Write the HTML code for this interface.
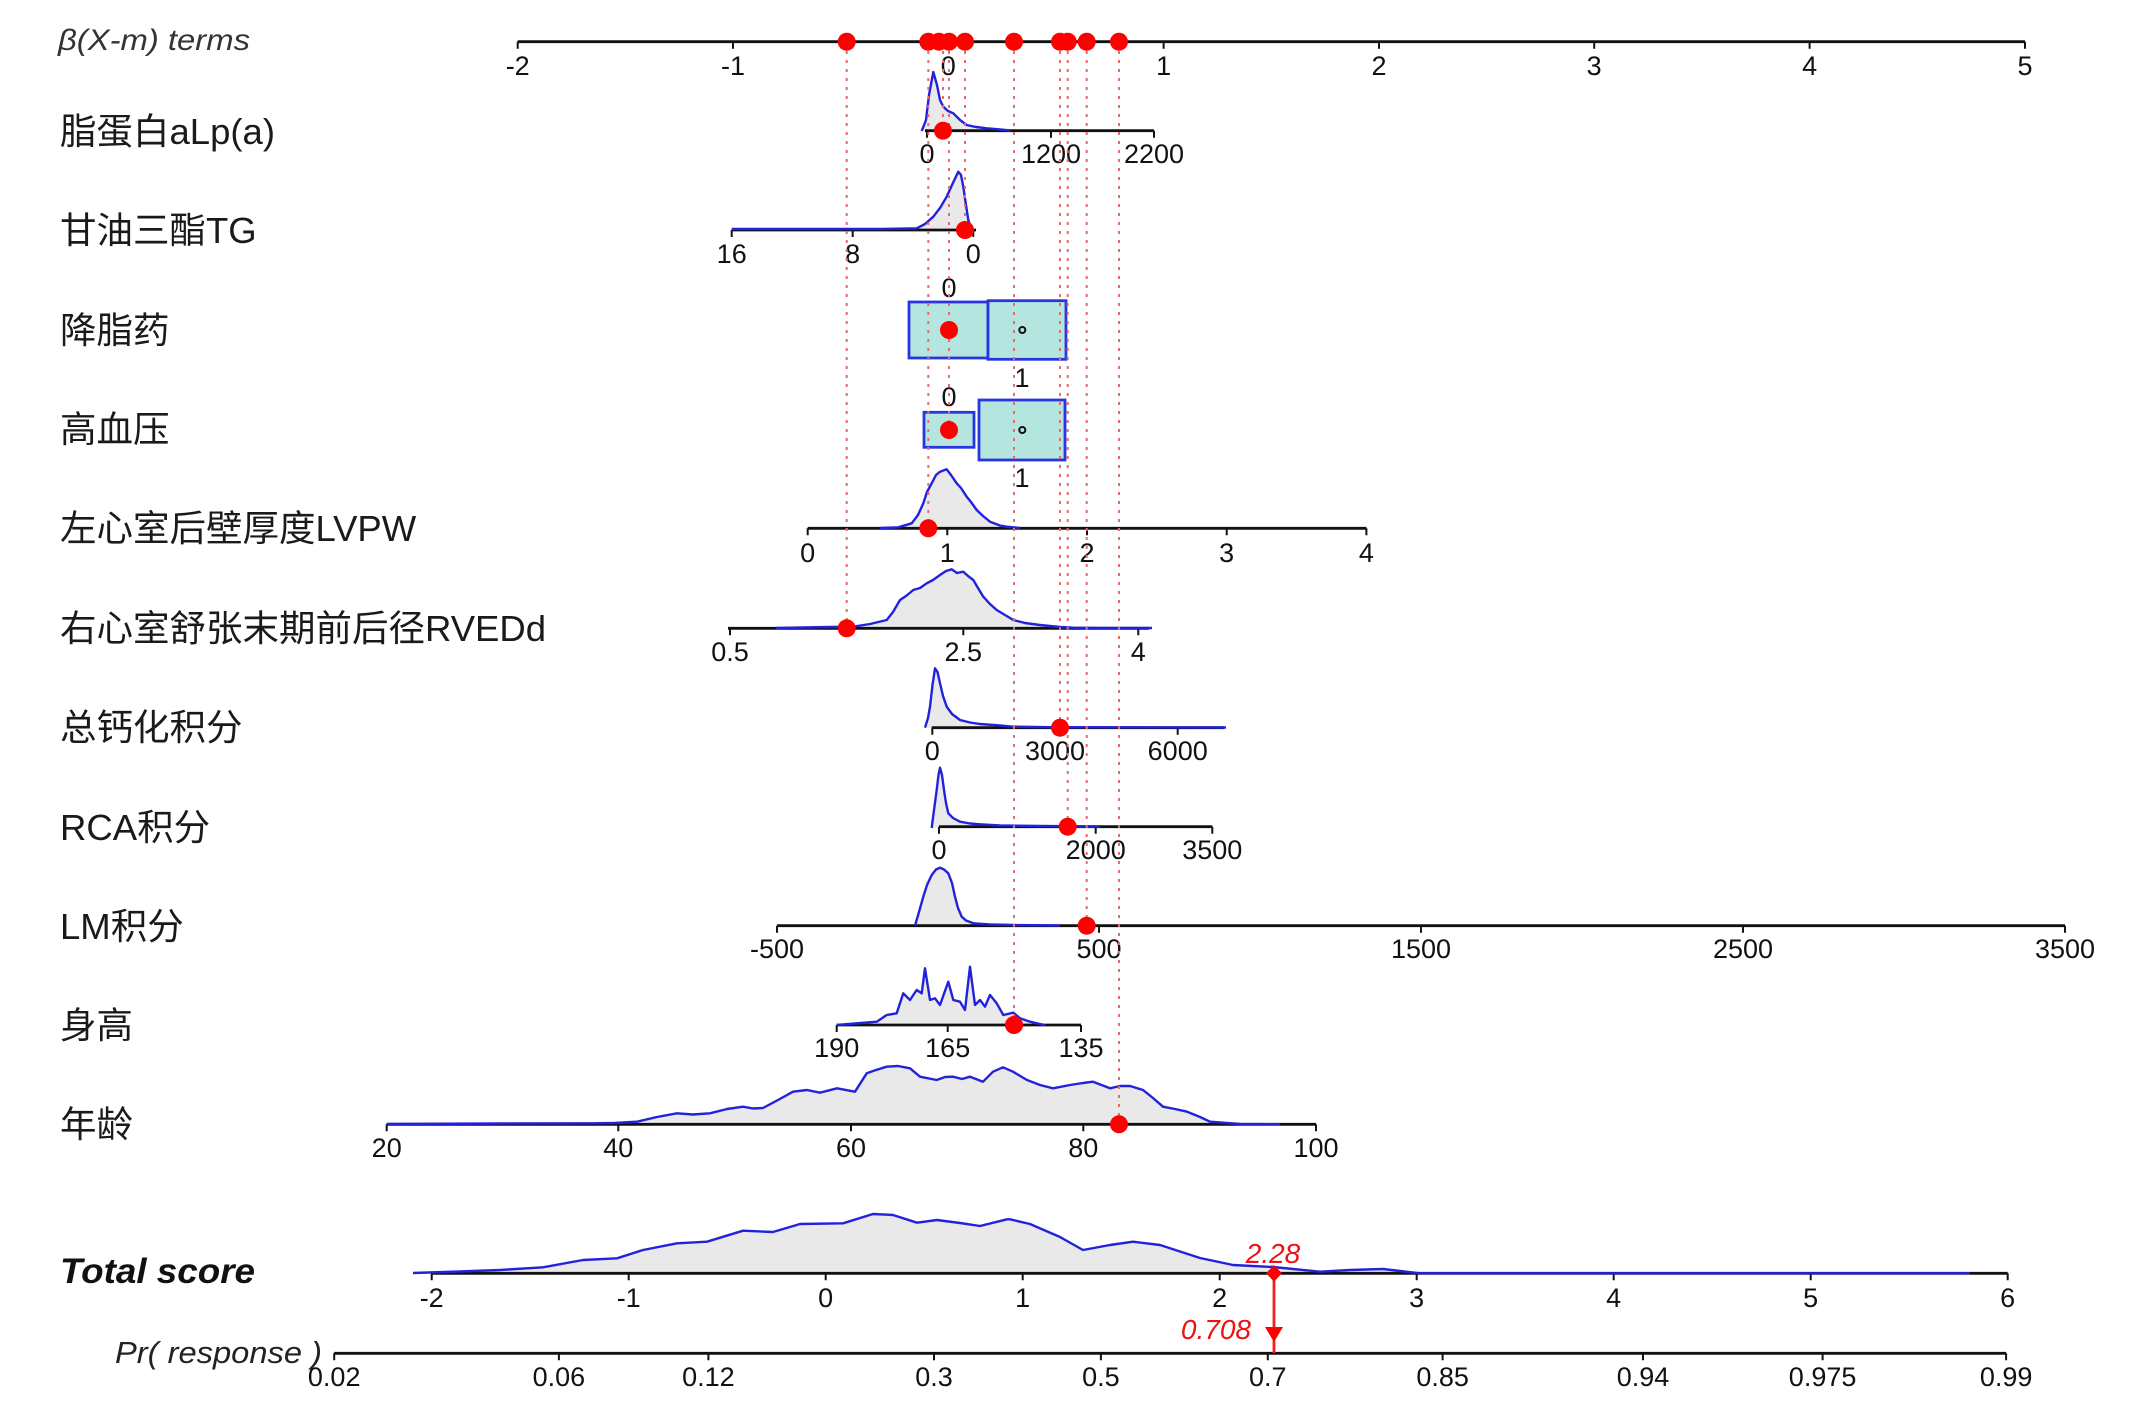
<!DOCTYPE html>
<html><head><meta charset="utf-8"><style>
html,body{margin:0;padding:0;background:#fff;}
svg{display:block;}
.t{font-family:"Liberation Sans",sans-serif;font-size:27px;fill:#111;text-anchor:middle;}
.lab{font-family:"Liberation Sans","Noto Sans CJK SC",sans-serif;font-size:36.5px;fill:#1a1a1a;}
.ax{stroke:#111;stroke-width:2.8;fill:none;}
.tk{stroke:#111;stroke-width:2;}
.df{fill:#e9e9e9;stroke:none;}
.dl{fill:none;stroke:#2222dd;stroke-width:2.4;stroke-linejoin:round;}
.vl{stroke:#e86a6a;stroke-width:2;stroke-dasharray:3 6;}
.box{fill:#b4e6df;stroke:#2a35e0;stroke-width:2.8;}
</style></head><body>
<svg width="2153" height="1416" viewBox="0 0 2153 1416" xmlns="http://www.w3.org/2000/svg">
<rect width="2153" height="1416" fill="#fff"/>

<!-- Left labels -->
<text x="58" y="50" style="font-family:'Liberation Sans',sans-serif;font-style:italic;font-size:30px;fill:#333" textLength="192" lengthAdjust="spacingAndGlyphs">β(X-m) terms</text>
<text class="lab" x="60" y="144">脂蛋白aLp(a)</text>
<text class="lab" x="60" y="243">甘油三酯TG</text>
<text class="lab" x="60" y="343">降脂药</text>
<text class="lab" x="60" y="442">高血压</text>
<text class="lab" x="60" y="541">左心室后壁厚度LVPW</text>
<text class="lab" x="60" y="641">右心室舒张末期前后径RVEDd</text>
<text class="lab" x="60" y="740">总钙化积分</text>
<text class="lab" x="60" y="840">RCA积分</text>
<text class="lab" x="60" y="939">LM积分</text>
<text class="lab" x="60" y="1038">身高</text>
<text class="lab" x="60" y="1137">年龄</text>
<text x="60" y="1283" style="font-family:'Liberation Sans',sans-serif;font-style:italic;font-weight:bold;font-size:35px;fill:#111" textLength="195" lengthAdjust="spacingAndGlyphs">Total score</text>
<text x="115" y="1363" style="font-family:'Liberation Sans',sans-serif;font-style:italic;font-size:31px;fill:#222" textLength="207" lengthAdjust="spacingAndGlyphs">Pr( response )</text>

<!-- Density fills -->
<g class="df">
<polygon points="921.7,131 926,120 929,95 933.3,72 937,85 940,100 943.3,106.7 948,111 953.3,113.3 960,120 966.7,125 976,127 986.7,128.3 1000,129.5 1010,130.5"/>
<polygon points="916.7,229 925,224 933.3,216.7 940,208 946.7,196.7 952,185 958.3,171.7 961,175 963.3,186.7 966,205 968.3,220 971.7,230"/>
<polygon points="880,528 898.3,527.3 911.7,523.3 918,515 923.3,503.3 927,492 931.7,483.3 936,475 940,471.7 946.7,469.3 951,475 956.7,483.3 961,488 966.7,496.7 971,502 976.7,510 983,516 990,521.7 1000,525.5 1006.7,526.7 1020,528"/>
<polygon points="776,628 830,627 853.3,626.7 870,624 886.7,620 893,612 900,600 906,596 913.3,590 920,588 926.7,583.3 933,580 940,575 946,571 951.7,569.3 957,573 963.3,571.7 968,576 973.3,580 978,588 983.3,596.7 990,604 996.7,610 1005,615 1013.3,620 1025,623 1040,625 1060,627 1073.3,627.7 1100,628"/>
<polygon points="925,727.7 928,718 930,706.7 932.5,685 935,668.3 937.5,672 940,683.3 943,696 946.7,706.7 952,714 960,720 970,722.5 980,724 1000,725.5 1013,726.7 1050,727.5"/>
<polygon points="931.7,828 934,810 936.7,790 938.5,775 940,767.7 942,775 944,790 946,803 948.3,813.3 953,818 960,821.7 970,823.5 980,824.3 1000,825.5 1040,826.5"/>
<polygon points="915,925.7 919,912 923.3,896.7 927,885 931.7,875 936,869.5 940,867.7 944,869.5 948.3,873.3 952,883 955,896.7 958,908 961.7,916.7 966,920.5 973.3,923.3 990,924.5 1013,925 1060,925.7"/>
<polygon points="836.7,1025 876.7,1021.7 886.7,1015 896.7,1013.3 903.3,993.3 910,1000 916.7,990 921.7,993.3 925,968.3 930,1000 935,998.3 940,1005 948.3,981.7 953.3,1000 960,1001.7 965,1010 970,966.7 975,1005 980,1000 985,1006.7 990,995 996.7,1003.3 1003.3,1015 1013.3,1012.7 1020,1018.3 1030,1021.7 1040,1024 1045,1025"/>
<polygon points="386.7,1124.3 500,1123.5 593,1123.3 615,1123 637,1121.7 657,1117 677,1113.3 693,1114.5 710,1113.3 727,1109 743,1106.7 753,1108.5 763,1108 778,1100 793,1091.7 807,1090 820,1092.7 837,1088.3 855,1091.7 866.7,1073.3 876,1070 886.7,1066.7 898,1066 910,1068.3 920,1076.7 936.7,1080 945,1077 953,1076.7 962,1079 970,1076.7 983,1081.7 993,1071.7 1003,1067.3 1013,1071.7 1027,1080 1040,1085 1053,1088.3 1070,1085 1083,1083 1093,1081.7 1110,1088.3 1120,1086 1130,1086 1143,1090 1153,1098 1163,1106.7 1175,1109 1187,1111.7 1200,1117 1210,1121.7 1240,1124 1280,1124.3"/>
<polygon points="413,1273 460,1271.5 500,1270 543,1267.3 583,1260 617,1258.3 643,1250 677,1243.3 707,1241.7 743,1230.7 773,1232 800,1224 843,1223.3 873,1214 893,1215 917,1222.7 937,1220 960,1223 980,1226 1007,1219.3 1010,1219.3 1030,1224 1060,1237 1083,1250 1110,1245 1133,1241.7 1160,1245 1200,1258 1233,1265 1273,1267 1320,1271.7 1350,1270 1383,1269 1420,1273.3"/>
</g>

<!-- Axes -->
<g class="ax">
<line x1="517.7" y1="41.7" x2="2025" y2="41.7"/>
<line x1="925" y1="130.7" x2="1154" y2="130.7"/>
<line x1="731.7" y1="230" x2="976" y2="230"/>
<line x1="807.7" y1="528.3" x2="1366.4" y2="528.3"/>
<line x1="728" y1="628.3" x2="1149" y2="628.3"/>
<line x1="931.7" y1="727.7" x2="1224" y2="727.7"/>
<line x1="939" y1="826.7" x2="1212.3" y2="826.7"/>
<line x1="777" y1="925.7" x2="2065" y2="925.7"/>
<line x1="836.7" y1="1025" x2="1081" y2="1025"/>
<line x1="386.7" y1="1124.3" x2="1316" y2="1124.3"/>
<line x1="431.7" y1="1273.3" x2="2007.7" y2="1273.3"/>
<line x1="334.2" y1="1353.3" x2="2006.1" y2="1353.3"/>
</g>

<!-- Ticks -->
<g class="tk">
<path d="M517.7 41.7v7M733 41.7v7M948.3 41.7v7M1163.6 41.7v7M1379 41.7v7M1594.2 41.7v7M1809.6 41.7v7M2025 41.7v7"/>
<path d="M927 130.7v7M1051 130.7v7M1154 130.7v7"/>
<path d="M731.7 230v7M852.7 230v7M973.3 230v7"/>
<path d="M807.7 528.3v7M947.3 528.3v7M1087 528.3v7M1226.7 528.3v7M1366.4 528.3v7"/>
<path d="M730 628.3v7M963.3 628.3v7M1138.3 628.3v7"/>
<path d="M932.3 727.7v7M1055 727.7v7M1177.7 727.7v7"/>
<path d="M939 826.7v7M1095.7 826.7v7M1212.3 826.7v7"/>
<path d="M777 925.7v7M1099 925.7v7M1421 925.7v7M1743 925.7v7M2065 925.7v7"/>
<path d="M836.7 1025v7M947.7 1025v7M1081 1025v7"/>
<path d="M386.7 1124.3v7M618.3 1124.3v7M851 1124.3v7M1083.3 1124.3v7M1316 1124.3v7"/>
<path d="M431.7 1273.3v7M628.7 1273.3v7M825.7 1273.3v7M1022.7 1273.3v7M1219.7 1273.3v7M1416.7 1273.3v7M1613.7 1273.3v7M1810.7 1273.3v7M2007.7 1273.3v7"/>
<path d="M334.2 1353.3v7M558.9 1353.3v7M708.4 1353.3v7M934 1353.3v7M1100.9 1353.3v7M1267.8 1353.3v7M1442.6 1353.3v7M1643 1353.3v7M1822.6 1353.3v7M2006.1 1353.3v7"/>
</g>

<!-- Density strokes -->
<g class="dl">
<polyline points="921.7,131 926,120 929,95 933.3,72 937,85 940,100 943.3,106.7 948,111 953.3,113.3 960,120 966.7,125 976,127 986.7,128.3 1000,129.5 1010,130.5"/>
<polyline points="731.7,229 800,229 880,229 916.7,228.3 925,224 933.3,216.7 940,208 946.7,196.7 952,185 958.3,171.7 961,175 963.3,186.7 966,205 968.3,220 971.7,230"/>
<polyline points="880,528 898.3,527.3 911.7,523.3 918,515 923.3,503.3 927,492 931.7,483.3 936,475 940,471.7 946.7,469.3 951,475 956.7,483.3 961,488 966.7,496.7 971,502 976.7,510 983,516 990,521.7 1000,525.5 1006.7,526.7 1020,528"/>
<polyline points="776,628 830,627 853.3,626.7 870,624 886.7,620 893,612 900,600 906,596 913.3,590 920,588 926.7,583.3 933,580 940,575 946,571 951.7,569.3 957,573 963.3,571.7 968,576 973.3,580 978,588 983.3,596.7 990,604 996.7,610 1005,615 1013.3,620 1025,623 1040,625 1060,627 1073.3,627.7 1100,628 1152,628"/>
<polyline points="925,727.7 928,718 930,706.7 932.5,685 935,668.3 937.5,672 940,683.3 943,696 946.7,706.7 952,714 960,720 970,722.5 980,724 1000,725.5 1013,726.7 1050,727.2 1226,727.5"/>
<polyline points="931.7,828 934,810 936.7,790 938.5,775 940,767.7 942,775 944,790 946,803 948.3,813.3 953,818 960,821.7 970,823.5 980,824.3 1000,825.5 1040,826 1100,826.5"/>
<polyline points="915,925.7 919,912 923.3,896.7 927,885 931.7,875 936,869.5 940,867.7 944,869.5 948.3,873.3 952,883 955,896.7 958,908 961.7,916.7 966,920.5 973.3,923.3 990,924.5 1013,925 1060,925.5"/>
<polyline points="836.7,1025 876.7,1021.7 886.7,1015 896.7,1013.3 903.3,993.3 910,1000 916.7,990 921.7,993.3 925,968.3 930,1000 935,998.3 940,1005 948.3,981.7 953.3,1000 960,1001.7 965,1010 970,966.7 975,1005 980,1000 985,1006.7 990,995 996.7,1003.3 1003.3,1015 1013.3,1012.7 1020,1018.3 1030,1021.7 1040,1024 1045,1025"/>
<polyline points="386.7,1124 500,1123.5 593,1123.3 615,1123 637,1121.7 657,1117 677,1113.3 693,1114.5 710,1113.3 727,1109 743,1106.7 753,1108.5 763,1108 778,1100 793,1091.7 807,1090 820,1092.7 837,1088.3 855,1091.7 866.7,1073.3 876,1070 886.7,1066.7 898,1066 910,1068.3 920,1076.7 936.7,1080 945,1077 953,1076.7 962,1079 970,1076.7 983,1081.7 993,1071.7 1003,1067.3 1013,1071.7 1027,1080 1040,1085 1053,1088.3 1070,1085 1083,1083 1093,1081.7 1110,1088.3 1120,1086 1130,1086 1143,1090 1153,1098 1163,1106.7 1175,1109 1187,1111.7 1200,1117 1210,1121.7 1240,1124 1280,1124.3"/>
<polyline points="413,1273 460,1271.5 500,1270 543,1267.3 583,1260 617,1258.3 643,1250 677,1243.3 707,1241.7 743,1230.7 773,1232 800,1224 843,1223.3 873,1214 893,1215 917,1222.7 937,1220 960,1223 980,1226 1007,1219.3 1010,1219.3 1030,1224 1060,1237 1083,1250 1110,1245 1133,1241.7 1160,1245 1200,1258 1233,1265 1273,1267 1320,1271.7 1350,1270 1383,1269 1420,1273.3 1970,1273.3"/>
</g>

<!-- Boxes -->
<rect class="box" x="909" y="302" width="79" height="56"/>
<rect class="box" x="988" y="300.7" width="78" height="58.6"/>
<rect class="box" x="924" y="412.3" width="50" height="35"/>
<rect class="box" x="979" y="400" width="86" height="60"/>
<circle cx="1022.3" cy="330" r="3" fill="none" stroke="#111" stroke-width="2"/>
<circle cx="1022.3" cy="430" r="3" fill="none" stroke="#111" stroke-width="2"/>

<!-- Tick labels -->
<g class="t">
<text x="517.7" y="75">-2</text><text x="733" y="75">-1</text><text x="948.3" y="75">0</text><text x="1163.6" y="75">1</text><text x="1379" y="75">2</text><text x="1594.2" y="75">3</text><text x="1809.6" y="75">4</text><text x="2025" y="75">5</text>
<text x="927" y="163">0</text><text x="1051" y="163">1200</text><text x="1154" y="163">2200</text>
<text x="731.7" y="263">16</text><text x="852.7" y="263">8</text><text x="973.3" y="263">0</text>
<text x="949" y="297">0</text><text x="1022" y="387">1</text>
<text x="949" y="406">0</text><text x="1022" y="487">1</text>
<text x="807.7" y="562">0</text><text x="947.3" y="562">1</text><text x="1087" y="562">2</text><text x="1226.7" y="562">3</text><text x="1366.4" y="562">4</text>
<text x="730" y="661">0.5</text><text x="963.3" y="661">2.5</text><text x="1138.3" y="661">4</text>
<text x="932.3" y="760">0</text><text x="1055" y="760">3000</text><text x="1177.7" y="760">6000</text>
<text x="939" y="859">0</text><text x="1095.7" y="859">2000</text><text x="1212.3" y="859">3500</text>
<text x="777" y="958">-500</text><text x="1099" y="958">500</text><text x="1421" y="958">1500</text><text x="1743" y="958">2500</text><text x="2065" y="958">3500</text>
<text x="836.7" y="1057">190</text><text x="947.7" y="1057">165</text><text x="1081" y="1057">135</text>
<text x="386.7" y="1157">20</text><text x="618.3" y="1157">40</text><text x="851" y="1157">60</text><text x="1083.3" y="1157">80</text><text x="1316" y="1157">100</text>
<text x="431.7" y="1307">-2</text><text x="628.7" y="1307">-1</text><text x="825.7" y="1307">0</text><text x="1022.7" y="1307">1</text><text x="1219.7" y="1307">2</text><text x="1416.7" y="1307">3</text><text x="1613.7" y="1307">4</text><text x="1810.7" y="1307">5</text><text x="2007.7" y="1307">6</text>
<text x="334.2" y="1386">0.02</text><text x="558.9" y="1386">0.06</text><text x="708.4" y="1386">0.12</text><text x="934" y="1386">0.3</text><text x="1100.9" y="1386">0.5</text><text x="1267.8" y="1386">0.7</text><text x="1442.6" y="1386">0.85</text><text x="1643" y="1386">0.94</text><text x="1822.6" y="1386">0.975</text><text x="2006.1" y="1386">0.99</text>
</g>

<!-- Dotted verticals -->
<g class="vl">
<line x1="846.7" y1="42" x2="846.7" y2="628"/>
<line x1="928.3" y1="42" x2="928.3" y2="528"/>
<line x1="943" y1="42" x2="943" y2="130"/>
<line x1="949" y1="42" x2="949" y2="430"/>
<line x1="965" y1="42" x2="965" y2="230"/>
<line x1="1014" y1="42" x2="1014" y2="1025"/>
<line x1="1060" y1="42" x2="1060" y2="727"/>
<line x1="1067.7" y1="42" x2="1067.7" y2="826"/>
<line x1="1086.7" y1="42" x2="1086.7" y2="925"/>
<line x1="1119" y1="42" x2="1119" y2="1124"/>
</g>

<!-- Red dots -->
<g fill="#ff0000">
<circle cx="846.7" cy="41.7" r="9"/><circle cx="928.3" cy="41.7" r="9"/><circle cx="939" cy="41.7" r="9"/><circle cx="949" cy="41.7" r="9"/><circle cx="965" cy="41.7" r="9"/><circle cx="1014" cy="41.7" r="9"/><circle cx="1060" cy="41.7" r="9"/><circle cx="1067.7" cy="41.7" r="9"/><circle cx="1086.7" cy="41.7" r="9"/><circle cx="1119" cy="41.7" r="9"/>
<circle cx="943" cy="130.7" r="9"/>
<circle cx="965" cy="230" r="9"/>
<circle cx="949" cy="330" r="9"/>
<circle cx="949" cy="430" r="9"/>
<circle cx="928.3" cy="528.3" r="9"/>
<circle cx="846.7" cy="628.3" r="9"/>
<circle cx="1060" cy="727.7" r="9"/>
<circle cx="1067.7" cy="826.7" r="9"/>
<circle cx="1086.7" cy="925.7" r="9"/>
<circle cx="1014" cy="1025" r="9"/>
<circle cx="1119" cy="1124.3" r="9"/>
</g>

<!-- Total score marker -->
<line x1="1274" y1="1275" x2="1274" y2="1353" stroke="#f02020" stroke-width="2.8"/>
<polygon points="1274,1265 1282,1273.3 1274,1281.6 1266,1273.3" fill="#ff0000"/>
<polygon points="1265,1327 1283,1327 1274,1342" fill="#ff0000"/>
<text x="1273" y="1263" text-anchor="middle" style="font-family:'Liberation Sans',sans-serif;font-style:italic;font-size:28px;fill:#ee1111">2.28</text>
<text x="1251" y="1339" text-anchor="end" style="font-family:'Liberation Sans',sans-serif;font-style:italic;font-size:28px;fill:#ee1111">0.708</text>
</svg>
</body></html>
